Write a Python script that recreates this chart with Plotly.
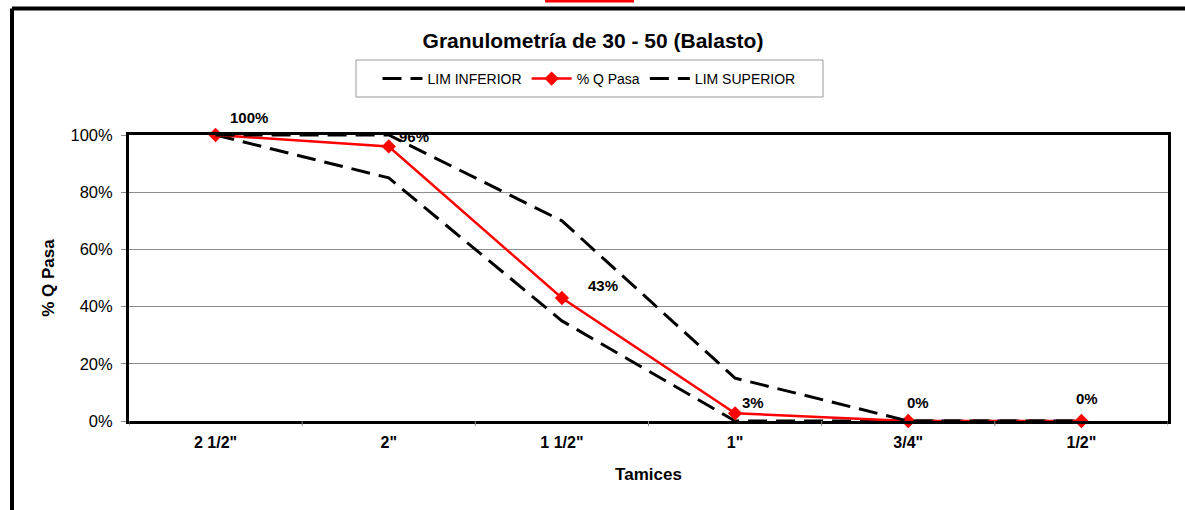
import plotly.graph_objects as go

tamices = ['2 1/2"', '2"', '1 1/2"', '1"', '3/4"', '1/2"']
lim_inferior = [100, 85, 35, 0, 0, 0]
q_pasa = [100, 96, 43, 2.7, 0, 0]
lim_superior = [100, 100, 70, 15, 0, 0]
etiquetas = ["100%", "96%", "43%", "3%", "0%", "0%"]
y_ticks = [0, 20, 40, 60, 80, 100]
y_tick_text = ["0%", "20%", "40%", "60%", "80%", "100%"]

# label pixel offsets (style only)
label_dx = [33, 25, 41, 18, 10, 6]
label_dy = [18, 10, 13, 11, 19, 23]

W, H = 1185, 510
L, R, T, B = 129, 1168, 135, 421

def px(x):
    return (x - L) / (R - L)

def py(y):
    return (B - y) / (B - T)

FONT = "Liberation Sans, Arial"
DASH = "19px,9px"

fig = go.Figure()
fig.add_trace(go.Scatter(
    x=list(range(len(tamices))), y=lim_inferior, name="LIM INFERIOR", mode="lines",
    line=dict(color="black", width=3, dash=DASH), hoverinfo="y"))
fig.add_trace(go.Scatter(
    x=list(range(len(tamices))), y=q_pasa, name="% Q Pasa", mode="lines+markers",
    line=dict(color="#ff0000", width=2.5),
    marker=dict(symbol="diamond", size=11, color="#ff0000"),
    cliponaxis=False))
fig.add_trace(go.Scatter(
    x=list(range(len(tamices))), y=lim_superior, name="LIM SUPERIOR", mode="lines",
    line=dict(color="black", width=3, dash=DASH), hoverinfo="y"))

for i, (v, t) in enumerate(zip(q_pasa, etiquetas)):
    fig.add_annotation(x=i, y=v, xref="x", yref="y", text="<b>%s</b>" % t,
                       showarrow=False, xanchor="center", yanchor="middle",
                       xshift=label_dx[i], yshift=label_dy[i],
                       font=dict(family=FONT, size=15, color="black"))

shapes = [
    # outer chart border (left and top visible)
    dict(type="line", xref="paper", yref="paper", x0=px(12), x1=px(1190), y0=py(8.5), y1=py(8.5),
         line=dict(color="black", width=4)),
    dict(type="line", xref="paper", yref="paper", x0=px(12), x1=px(12), y0=py(8.5), y1=py(515),
         line=dict(color="black", width=4)),
    # red mark at top
    dict(type="rect", xref="paper", yref="paper", x0=px(545), x1=px(634), y0=py(0), y1=py(2.5),
         line=dict(width=0), fillcolor="#ff0000"),
    # legend box
    dict(type="rect", xref="paper", yref="paper", x0=px(356), x1=px(823), y0=py(60), y1=py(97),
         line=dict(color="#999999", width=1), fillcolor="rgba(0,0,0,0)"),
]

fig.update_layout(
    width=W, height=H,
    margin=dict(l=L, r=W - R, t=T, b=H - B, autoexpand=False),
    paper_bgcolor="white", plot_bgcolor="white",
    font=dict(family=FONT, size=14, color="black"),
    title=dict(text="<b>Granulometría de 30 - 50 (Balasto)</b>", xref="container", x=593 / W,
               xanchor="center", y=1 - 41 / H, yanchor="middle", font=dict(size=21)),
    showlegend=True,
    legend=dict(orientation="h", x=px(589), xanchor="center", y=py(79), yanchor="middle",
                font=dict(size=14), bgcolor="rgba(0,0,0,0)", borderwidth=0,
                itemwidth=40, tracegroupgap=0),
    shapes=shapes,
    xaxis=dict(
        tickmode="array", tickvals=list(range(len(tamices))),
        ticktext=["<b>%s</b>" % t for t in tamices],
        range=[-0.5, len(tamices) - 0.5], showgrid=False, zeroline=False,
        ticks="", showline=True, linecolor="black", linewidth=3, mirror=True,
        tickfont=dict(size=16), ticklabelstandoff=5,
        title=dict(text="<b>Tamices</b>", font=dict(size=17), standoff=18),
    ),
    yaxis=dict(
        tickmode="array", tickvals=y_ticks, ticktext=y_tick_text,
        range=[0, 100], showgrid=True, gridcolor="#8c8c8c", gridwidth=1, zeroline=False,
        ticks="outside", ticklen=5, tickcolor="#8c8c8c",
        showline=True, linecolor="black", linewidth=3, mirror=True,
        tickfont=dict(size=16.5), ticklabelstandoff=5,
        title=dict(text="<b>% Q Pasa</b>", font=dict(size=17), standoff=12),
    ),
)

# category boundary ticks below x axis
for i in range(len(tamices) + 1):
    fig.add_shape(type="line", xref="x", yref="paper", x0=i - 0.5, x1=i - 0.5,
                  y0=0, y1=-5 / (B - T), line=dict(color="#8c8c8c", width=1))

fig.write_html("out.html", config={"displayModeBar": False},
               post_script="document.body.style.margin='0';document.body.style.padding='0';")
